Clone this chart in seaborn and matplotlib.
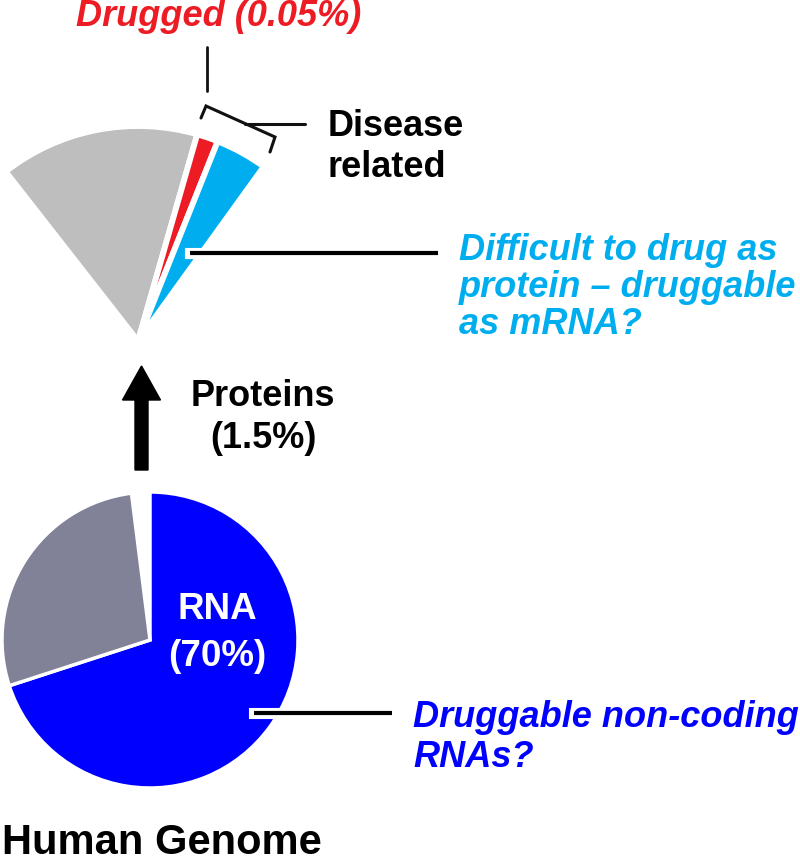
import matplotlib
matplotlib.use("Agg")
import matplotlib.pyplot as plt
import matplotlib.patheffects as pe
import seaborn as sns

# ---------------- data ----------------
genome_labels = ["RNA", "Other", "Proteins"]
genome_values = [70.0, 28.0, 2.0]          # % of human genome (proteins slice pulled out)
genome_colors = ["#0000ff", "#818198", "none"]

fan_labels = ["Other proteins", "Drugged", "Difficult to drug", "hidden"]
fan_values = [15.0, 1.6, 3.9, 79.5]        # share of the magnified protein fan
fan_colors = ["#bebebe", "#ed1c24", "#00aeef", "none"]

# ---------------- style ----------------
sns.set_style("white")
plt.rcParams["font.family"] = ["Liberation Sans", "DejaVu Sans"]

W, H = 800, 864
fig = plt.figure(figsize=(8, 8.64), dpi=100)
ax = fig.add_axes([0, 0, 1, 1])


def Y(y):
    return H - y


# top fan (magnified proteins)
wedges, _ = ax.pie(fan_values, colors=fan_colors, startangle=128, counterclock=False,
                   radius=215, center=(138, Y(341)),
                   wedgeprops=dict(edgecolor="white", linewidth=4.2))
wedges[-1].set_edgecolor("none")

# bottom pie (human genome)
wedges2, _ = ax.pie(genome_values, colors=genome_colors, startangle=90, counterclock=False,
                    radius=148, center=(150, Y(640)),
                    wedgeprops=dict(edgecolor="white", linewidth=2.5))
wedges2[-1].set_edgecolor("none")

ax.set_xlim(0, W)
ax.set_ylim(0, H)
ax.set_aspect("equal")
ax.axis("off")

white_edge = [pe.Stroke(linewidth=8, foreground="white", capstyle="projecting"), pe.Normal()]

# leader lines
ax.plot([190, 438], [Y(253), Y(253)], color="black", lw=3, solid_capstyle="butt",
        path_effects=white_edge)
ax.plot([254, 392], [Y(713), Y(713)], color="black", lw=3, solid_capstyle="butt",
        path_effects=white_edge)

# bracket for disease related
ax.plot([201, 206, 275, 270], [Y(118), Y(106), Y(137), Y(152)], color="#111111", lw=2.2,
        solid_joinstyle="miter")
ax.plot([245, 305], [Y(124), Y(124)], color="#111111", lw=2.2)
# line to "Drugged"
ax.plot([207, 207], [Y(47), Y(91)], color="#111111", lw=2)

# arrow
ax.arrow(141.5, Y(470), 0, 470 - 366, width=13, head_width=38, head_length=34,
         length_includes_head=True, color="black")

fs = 26
# texts
ax.text(361, Y(26), "Drugged (0.05%)", color="#ed1c24", fontsize=fs, fontweight="bold",
        fontstyle="italic", ha="right", va="baseline")
ax.text(328, Y(136), "Disease", color="black", fontsize=fs, fontweight="bold", ha="left", va="baseline")
ax.text(328, Y(177), "related", color="black", fontsize=fs, fontweight="bold", ha="left", va="baseline")

for i, line in enumerate(["Difficult to drug as", "protein \u2013 druggable", "as mRNA?"]):
    ax.text(459, Y(260 + 37 * i), line, color="#00aeef", fontsize=fs, fontweight="bold",
            fontstyle="italic", ha="left", va="baseline")

ax.text(263, Y(406), "Proteins", color="black", fontsize=fs, fontweight="bold", ha="center", va="baseline")
ax.text(263, Y(448), "(1.5%)", color="black", fontsize=fs, fontweight="bold", ha="center", va="baseline")

ax.text(217, Y(619), "RNA", color="white", fontsize=26.5, fontweight="bold", ha="center", va="baseline")
ax.text(217, Y(666), "(70%)", color="white", fontsize=26.5, fontweight="bold", ha="center", va="baseline")

ax.text(413, Y(727), "Druggable non-coding", color="#0000ff", fontsize=fs, fontweight="bold",
        fontstyle="italic", ha="left", va="baseline")
ax.text(413, Y(767), "RNAs?", color="#0000ff", fontsize=fs, fontweight="bold",
        fontstyle="italic", ha="left", va="baseline")

ax.text(2, Y(854), "Human Genome", color="black", fontsize=30, fontweight="bold", ha="left", va="baseline")

fig.savefig("out.png", dpi=100)
